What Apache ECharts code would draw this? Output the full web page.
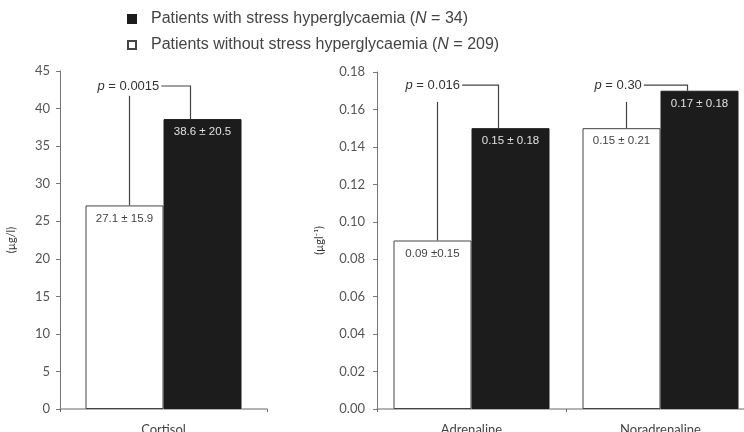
<!DOCTYPE html>
<html>
<head>
<meta charset="utf-8">
<script src="https://cdn.jsdelivr.net/npm/echarts@6/dist/echarts.min.js"></script>
<style>html,body{margin:0;padding:0;background:#fff}#c{width:744px;height:432px}</style>
</head>
<body>
<div id="c"></div>
<script>
// ---- data ----
const seriesWith = 'Patients with stress hyperglycaemia (N = 34)';
const seriesWithout = 'Patients without stress hyperglycaemia (N = 209)';

const categoriesLeft = ['Cortisol'];
const categoriesRight = ['Adrenaline', 'Noradrenaline'];

const withoutLeft = [27.1];
const withLeft = [38.6];
const withoutRight = [0.09, 0.15];
const withRight = [0.15, 0.17];

const labelsWithoutLeft = ['27.1 ± 15.9'];
const labelsWithLeft = ['38.6 ± 20.5'];
const labelsWithoutRight = ['0.09 ±0.15', '0.15 ± 0.21'];
const labelsWithRight = ['0.15 ± 0.18', '0.17 ± 0.18'];

const pTextsLeft = ['p = 0.0015'];
const pTextsRight = ['p = 0.016', 'p = 0.30'];
const pLineTopLeft = [41.7];
const pTextLevelLeft = [43.0];
const pLineTopRight = [0.164, 0.164];
const pTextLevelRight = [0.173, 0.173];

const yTicksLeft = {min: 0, max: 45, interval: 5};
const yTicksRight = {min: 0, max: 0.18, interval: 0.02};

// ---- styles ----
const BAR_W = 78;
const SANS = '"Liberation Sans", Arial, sans-serif';
const TICKFONT = 'Lato, "Liberation Sans", sans-serif';
const measureCtx = document.createElement('canvas').getContext('2d');
function textWidth(t, size) { measureCtx.font = size + 'px ' + SANS; return measureCtx.measureText(t).width; }

function bracketRenderer(pTexts) {
  return function (params, api) {
    const idx = api.value(0);
    const cx = api.coord([idx, 0])[0];
    const yWhite = api.coord([idx, api.value(1)])[1];
    const yBlack = api.coord([idx, api.value(2)])[1];
    const yTop = api.coord([idx, api.value(3)])[1];
    const yText = api.coord([idx, api.value(4)])[1];
    const lx = cx - BAR_W / 2 + 5;
    const rx = cx + BAR_W / 2 - 12;
    const txt = pTexts[params.dataIndex];
    const tx = lx - 32;
    const tEnd = tx + textWidth(txt, 13) + 2;
    const stroke = {stroke: '#444', lineWidth: 1.2, fill: null};
    return {
      type: 'group',
      children: [
        {type: 'line', shape: {x1: lx, y1: yWhite, x2: lx, y2: yTop}, style: stroke},
        {type: 'polyline', shape: {points: [[tEnd, yText], [rx, yText], [rx, yBlack]]}, style: stroke},
        {type: 'text', x: tx, y: yText, style: {
          text: txt.replace(/^p/, '{i|p}'), fontSize: 13, fontFamily: SANS, fill: '#333',
          align: 'left', verticalAlign: 'middle',
          rich: {i: {fontStyle: 'italic', fontSize: 13, fontFamily: SANS, fill: '#333'}}
        }}
      ]
    };
  };
}

function barLabel(labels, color) {
  return {
    show: true, position: 'insideTop', distance: 7,
    fontSize: 11.5, fontFamily: SANS, color: color,
    formatter: p => labels[p.dataIndex]
  };
}

const whiteStyle = {color: '#ffffff', borderColor: '#444', borderWidth: 1};
const blackStyle = {color: '#1c1c1c', borderColor: '#1c1c1c', borderWidth: 1};

function xAxis(gi, cats) {
  return {
    type: 'category', gridIndex: gi, data: cats,
    axisLine: {lineStyle: {color: '#9a9a9a', width: 1.5}},
    axisTick: {show: true, length: 3, lineStyle: {color: '#666'}},
    axisLabel: {fontSize: 13, fontFamily: TICKFONT, color: '#444', margin: 14}
  };
}
function yAxis(gi, ticks, name, gap, margin, fmt) {
  return {
    type: 'value', gridIndex: gi, min: ticks.min, max: ticks.max, interval: ticks.interval,
    name: name, nameLocation: 'middle', nameGap: gap, nameRotate: 90,
    nameTextStyle: {fontSize: 11, fontFamily: TICKFONT, color: '#333'},
    axisLine: {show: true, lineStyle: {color: '#777'}},
    axisTick: {show: true, length: 4, lineStyle: {color: '#777'}},
    axisLabel: {fontSize: 13, fontFamily: TICKFONT, color: '#555', margin: margin, formatter: fmt},
    splitLine: {show: false}
  };
}

const chart = echarts.init(document.getElementById('c'), null, {renderer: 'canvas'});
chart.setOption({
  animation: false,
  backgroundColor: '#fff',
  legend: {
    data: [seriesWith, seriesWithout],
    orient: 'vertical', left: 127, top: 10, padding: 0,
    icon: 'rect', itemWidth: 8, itemHeight: 8, itemGap: 8,
    selectedMode: false,
    textStyle: {fontSize: 16, fontFamily: SANS, color: '#444', lineHeight: 18, padding: [0, 0, 0, 10],
      rich: {n: {fontStyle: 'italic', fontSize: 16, fontFamily: SANS, color: '#444'}}},
    formatter: name => name.replace('(N', '({n|N}')
  },
  grid: [
    {left: 60, right: 477, top: 71, bottom: 23, containLabel: false, outerBoundsMode: 'none'},
    {left: 377, right: -11, top: 72, bottom: 23, containLabel: false, outerBoundsMode: 'none'}
  ],
  xAxis: [xAxis(0, categoriesLeft), xAxis(1, categoriesRight)],
  yAxis: [
    yAxis(0, yTicksLeft, '(µg/l)', 43, 10, v => String(v)),
    yAxis(1, yTicksRight, '(µgl⁻¹)', 52, 12, v => v.toFixed(2))
  ],
  series: [
    {name: seriesWithout, type: 'bar', xAxisIndex: 0, yAxisIndex: 0, data: withoutLeft,
     barWidth: BAR_W, barGap: '0%', itemStyle: whiteStyle, label: barLabel(labelsWithoutLeft, '#444')},
    {name: seriesWith, type: 'bar', xAxisIndex: 0, yAxisIndex: 0, data: withLeft,
     barWidth: BAR_W, barGap: '0%', itemStyle: blackStyle, label: barLabel(labelsWithLeft, '#e0e0e0')},
    {name: seriesWithout, type: 'bar', xAxisIndex: 1, yAxisIndex: 1, data: withoutRight,
     barWidth: BAR_W, barGap: '0%', itemStyle: whiteStyle, label: barLabel(labelsWithoutRight, '#444')},
    {name: seriesWith, type: 'bar', xAxisIndex: 1, yAxisIndex: 1, data: withRight,
     barWidth: BAR_W, barGap: '0%', itemStyle: blackStyle, label: barLabel(labelsWithRight, '#e0e0e0')},
    {type: 'custom', xAxisIndex: 0, yAxisIndex: 0, clip: false, z: 5,
     data: categoriesLeft.map((c, i) => [i, withoutLeft[i], withLeft[i], pLineTopLeft[i], pTextLevelLeft[i]]),
     renderItem: bracketRenderer(pTextsLeft)},
    {type: 'custom', xAxisIndex: 1, yAxisIndex: 1, clip: false, z: 5,
     data: categoriesRight.map((c, i) => [i, withoutRight[i], withRight[i], pLineTopRight[i], pTextLevelRight[i]]),
     renderItem: bracketRenderer(pTextsRight)}
  ]
});
</script>
</body>
</html>
